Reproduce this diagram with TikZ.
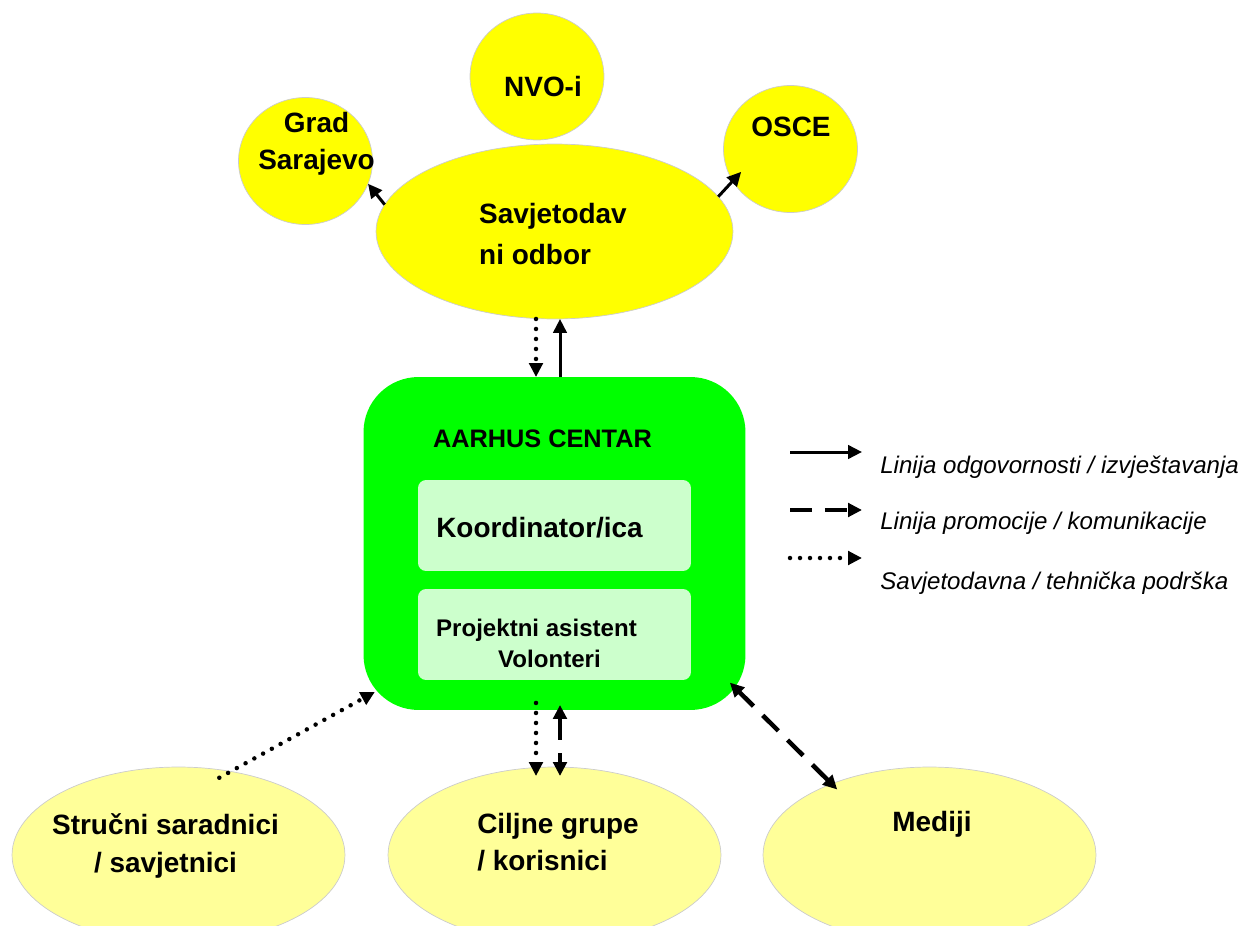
\documentclass[tikz,border=0pt]{standalone}
\usepackage{fontspec}
\setmainfont{Liberation Sans}
\usetikzlibrary{arrows.meta,shapes.geometric}
\definecolor{sunY}{HTML}{FFFF00}
\definecolor{paleY}{HTML}{FFFF99}
\definecolor{limeG}{HTML}{00FF00}
\definecolor{mintG}{HTML}{CCFFCC}
\begin{document}
\begin{tikzpicture}[x=0.02cm, y=-0.02cm, >={Triangle[length=0.28cm,width=0.27cm]},
  txt/.style={font=\fontsize{15.9}{21.2}\selectfont\bfseries},
  sun/.style={ellipse, fill=sunY, draw=black!20, line width=0.4pt, inner sep=0pt, outer sep=0pt, minimum width=2.68cm, minimum height=2.54cm},
  board/.style={ellipse, fill=sunY, draw=black!20, line width=0.4pt, inner sep=0pt, outer sep=0pt, minimum width=7.14cm, minimum height=3.5cm},
  crowd/.style={ellipse, fill=paleY, draw=black!20, line width=0.4pt, inner sep=0pt, outer sep=0pt, minimum width=6.66cm, minimum height=3.52cm},
  inbox/.style={rectangle, rounded corners=0.16cm, fill=mintG, inner sep=0pt, minimum width=5.46cm, minimum height=1.82cm},
  solidline/.style={line width=0.06cm},
  dashline/.style={line width=0.09cm, dash pattern=on 0.44cm off 0.26cm},
  dotline/.style={line width=0.09cm, line cap=round, dash pattern=on 0pt off 0.2cm},
  keytxt/.style={font=\fontsize{13.7}{16}\selectfont\itshape, anchor=west, inner sep=0pt}]
\useasboundingbox (0,0) rectangle (1242,926);

\node(NVO)[sun, label={[txt, shift={(6,10.5)}]center:NVO-i}] at (537,76.5){};
\node(Grad)[sun, label={[txt, align=center, shift={(11,-17.5)}]center:Grad\\Sarajevo}] at (305.5,161){};
\node(OSCE)[sun, label={[txt, shift={(0.5,-22.5)}]center:OSCE}] at (790.5,149){};
\node(Sav)[board, label={[txt, align=left, shift={(-1.5,2.5)}]center:Savjetodav\\[1.7pt]ni odbor}] at (554.5,231.5){};

\node(AC)[rectangle, rounded corners=1.1cm, fill=limeG, inner sep=0pt, outer sep=0pt, minimum width=7.64cm, minimum height=6.66cm] at (554.5,543.5){};
\node(Title)[font=\fontsize{14.4}{17}\selectfont\bfseries, inner sep=0pt] at (542.5,439){AARHUS CENTAR};
\node(Koord)[inbox, label={[txt, shift={(-15,2.5)}]center:Koordinator/ica}] at (554.5,525.5){};
\node(Proj)[inbox, label={[font=\fontsize{13.7}{17.6}\selectfont\bfseries, align=left, shift={(-18,9)}]center:Projektni asistent\\\hspace*{1.24cm}Volonteri}] at (554.5,634.5){};

\node(Str)[crowd, label={[txt, align=center, shift={(-13,-9)}]center:Stručni saradnici\\/ savjetnici}] at (178.5,855){};
\node(Cil)[crowd, label={[txt, align=left, shift={(3.5,-13)}]center:Ciljne grupe\\/ korisnici}] at (554.5,855){};
\node(Med)[crowd, label={[txt, shift={(2.5,-31)}]center:Mediji}] at (929.5,855){};

\draw (Sav.171) edge[->, solidline] (Grad.-20);
\draw (Sav.12) edge[->, solidline, shorten >=-0.25cm] (OSCE.209);
\draw ([xshift=-0.37cm]Sav.south) edge[->, dotline] ([xshift=-0.37cm]AC.north);
\draw ([xshift=0.11cm]AC.north) edge[->, solidline] ([xshift=0.11cm]Sav.south);
\draw ([xshift=-0.37cm]AC.south) edge[->, dotline, shorten <=-0.14cm, shorten >=-0.18cm] ([xshift=-0.37cm]Cil.north);
\draw ([xshift=0.11cm]AC.south) edge[<->, dashline, shorten <=-0.1cm, shorten >=-0.18cm] ([xshift=0.11cm]Cil.north);
\draw (Str.58) edge[->, dotline, shorten <=-0.26cm, shorten >=-0.26cm] (AC.219);
\draw (Med.144) edge[<->, dashline, shorten <=-0.16cm, shorten >=-0.44cm] (AC.-39);

\coordinate(A1) at (790,452);
\coordinate(B1) at (862,452);
\coordinate(A2) at (790,510);
\coordinate(B2) at (862,510);
\coordinate(A3) at (790,558);
\coordinate(B3) at (862,558);
\draw (A1) edge[->, solidline] (B1);
\draw (A2) edge[->, dashline] (B2);
\draw (A3) edge[->, dotline] (B3);
\node(K1)[keytxt] at (880,467){Linija odgovornosti / izvještavanja};
\node(K2)[keytxt] at (880,523){Linija promocije / komunikacije};
\node(K3)[keytxt] at (880,583){Savjetodavna / tehnička podrška};
\end{tikzpicture}
\end{document}
